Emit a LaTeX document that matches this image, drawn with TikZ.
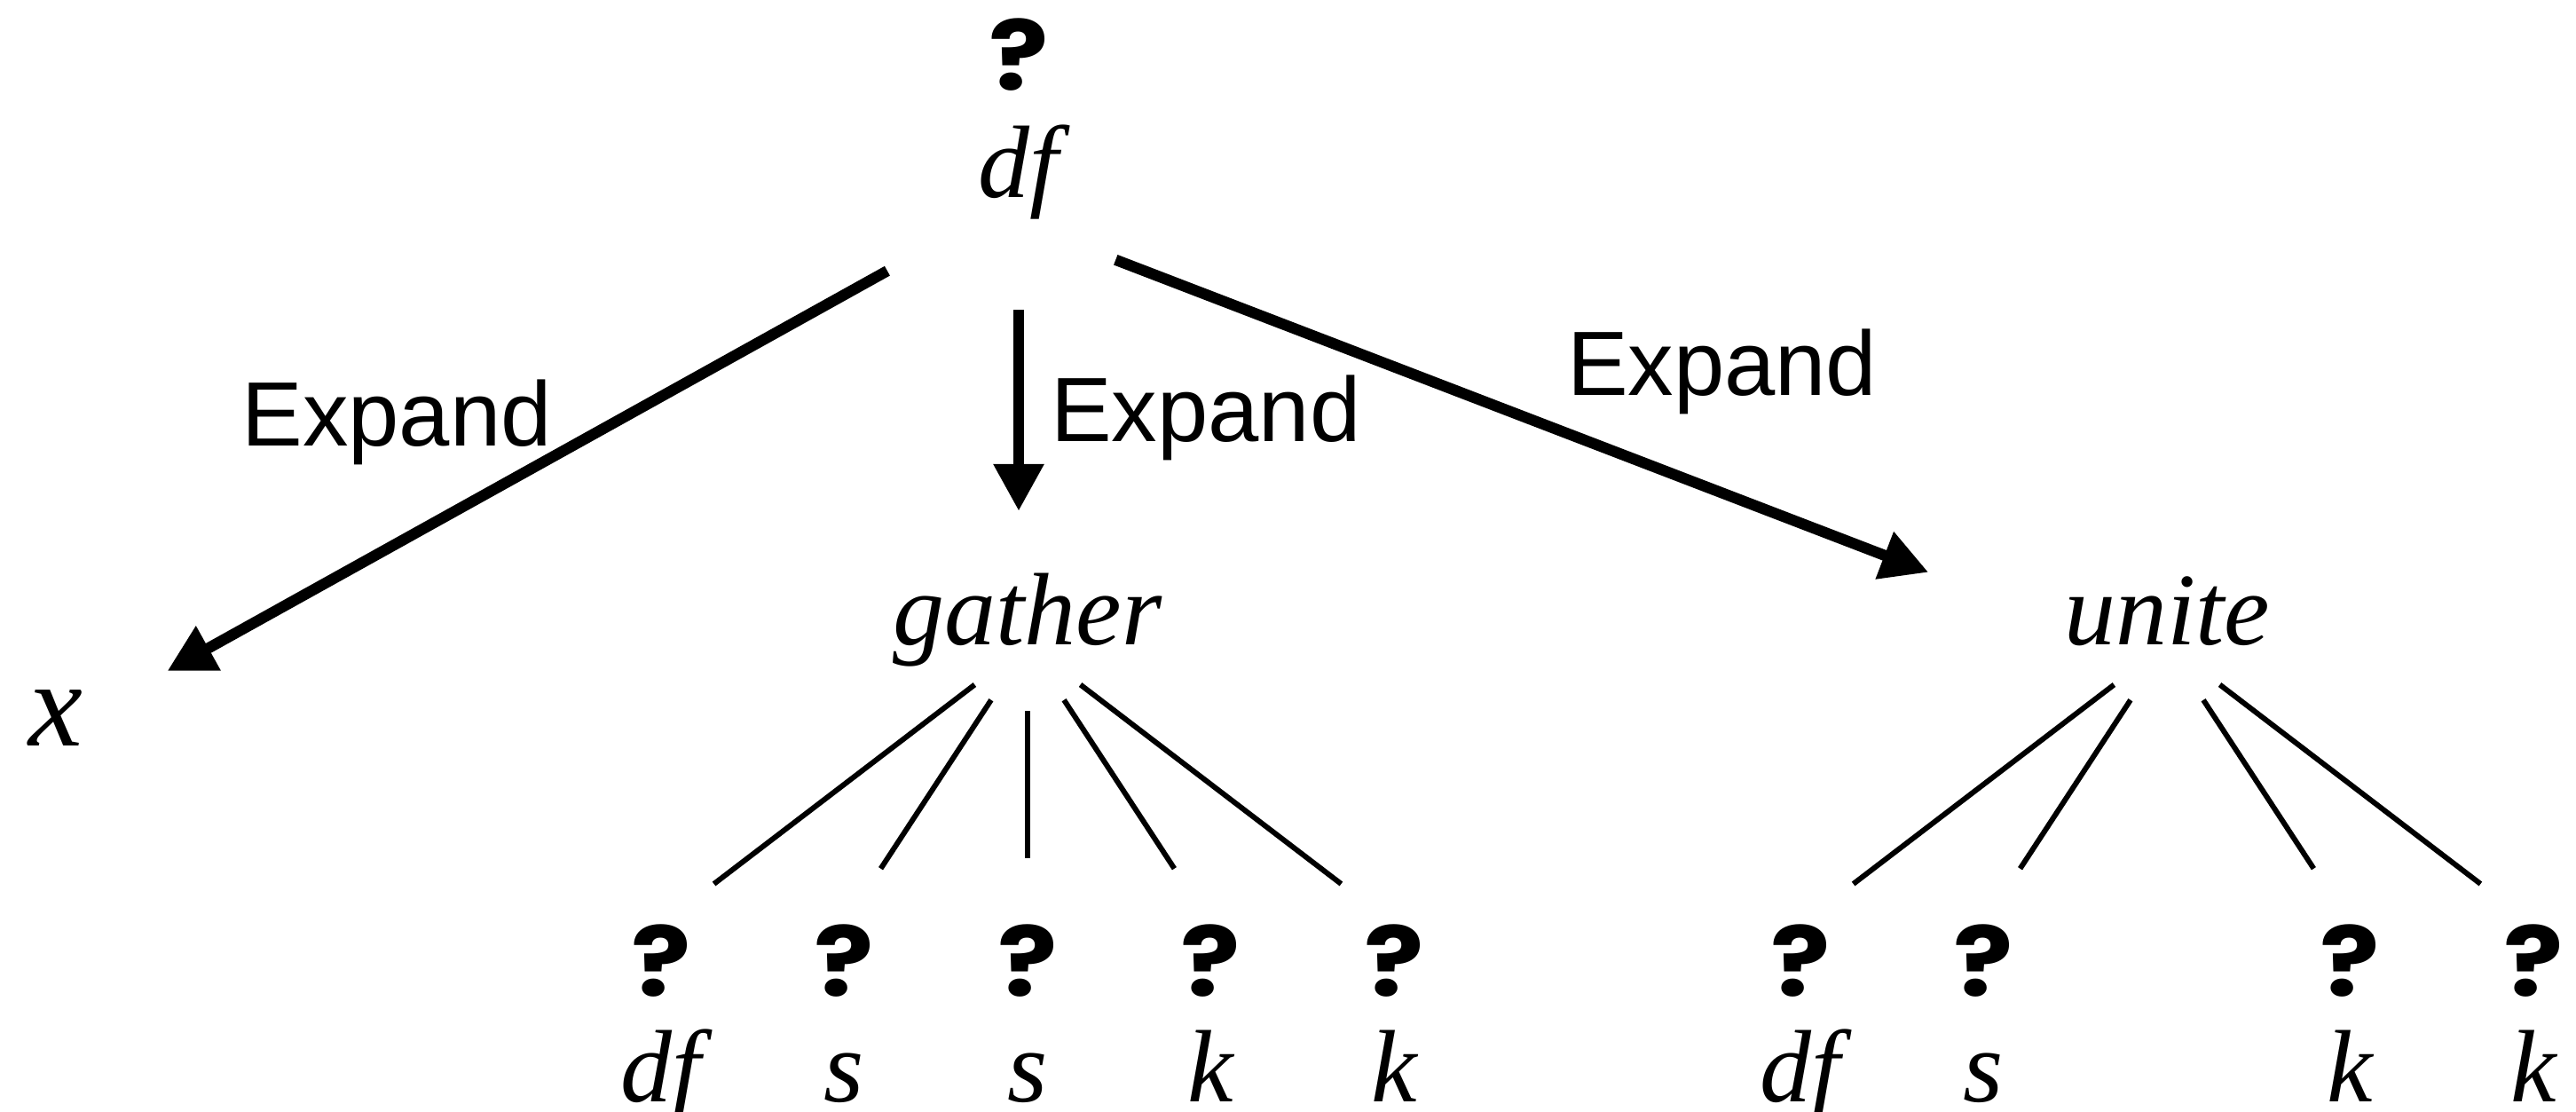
\documentclass[tikz,border=0pt]{standalone}
\usepackage{fontspec}
\setmainfont{Liberation Serif}
\newfontfamily\sans{Liberation Sans}
\newfontfamily\qfont{Poppins}[FakeStretch=1.15]
\usetikzlibrary{positioning,arrows.meta}
\tikzset{
    var/.style ={font=\fontsize{33}{40}\selectfont\itshape, inner sep=0pt},
    word/.style ={var, anchor=base},
    sub/.style ={var, text height=7.9mm, text depth=0pt},
    qmark/.style ={font=\qfont\bfseries\fontsize{31}{37}\selectfont, inner sep=0pt},
    hole/.style ={qmark, label={[sub, yshift=-3.7mm]below:#1}},
    lbl/.style ={font=\sans\fontsize{29.3}{35}\selectfont, inner sep=0pt},
    expand/.style ={line width=3.5pt, -{Triangle[length=5.3mm,width=5.4mm]}},
    twig/.style ={draw, line width=1.7pt, shorten <=7.5mm, shorten >=7.5mm}
}

\begin{document}
\begin{tikzpicture}[level distance=3.57cm, sibling distance=2.065cm,
        growth parent anchor=base,
        edge from parent/.style={twig},
        edge from parent path={(\tikzparentnode.base) -- (\tikzchildnode.north)}]
    \useasboundingbox (0,0) rectangle (29.03,-12.53);

    \node[word] (root) at (11.48,-2.23) {df};
    \node[qmark, above=3.8mm of root] (rootq) {?};
    \node[word, font=\fontsize{39}{47}\selectfont\itshape] (x) at (0.63,-8.40) {x};

    \node[word] (gat) at (11.58,-7.26) {gather}
        child{node[hole=df]{?}}
        child{node[hole=s]{?}}
        child{node[hole=s]{?}}
        child{node[hole=k]{?}}
        child{node[hole=k]{?}};
    \node[word] (uni) at (24.42,-7.26) {unite}
        child{node[hole=df]{?}}
        child{node[hole=s]{?}}
        child[missing]{}
        child{node[hole=k]{?}}
        child{node[hole=k]{?}};

    % the three expansions of the root hole
    \draw[expand, shorten <=1.17cm, shorten >=1.08cm] (root.south west)
        -- node[lbl, pos=.65, above=8.2mm]{Expand} (x.east);
    \draw[expand, shorten <=1.01cm, shorten >=0.69cm] (root.south)
        -- node[lbl, pos=.56, right=3mm]{Expand} (root.south |- gat.north);
    \draw[expand, shorten <=0.68cm, shorten >=1.63cm] ([yshift=-2mm]root.south east)
        -- node[lbl, pos=.66, above=8.2mm]{Expand} ([yshift=-1.5mm]uni.west);
\end{tikzpicture}
\end{document}
